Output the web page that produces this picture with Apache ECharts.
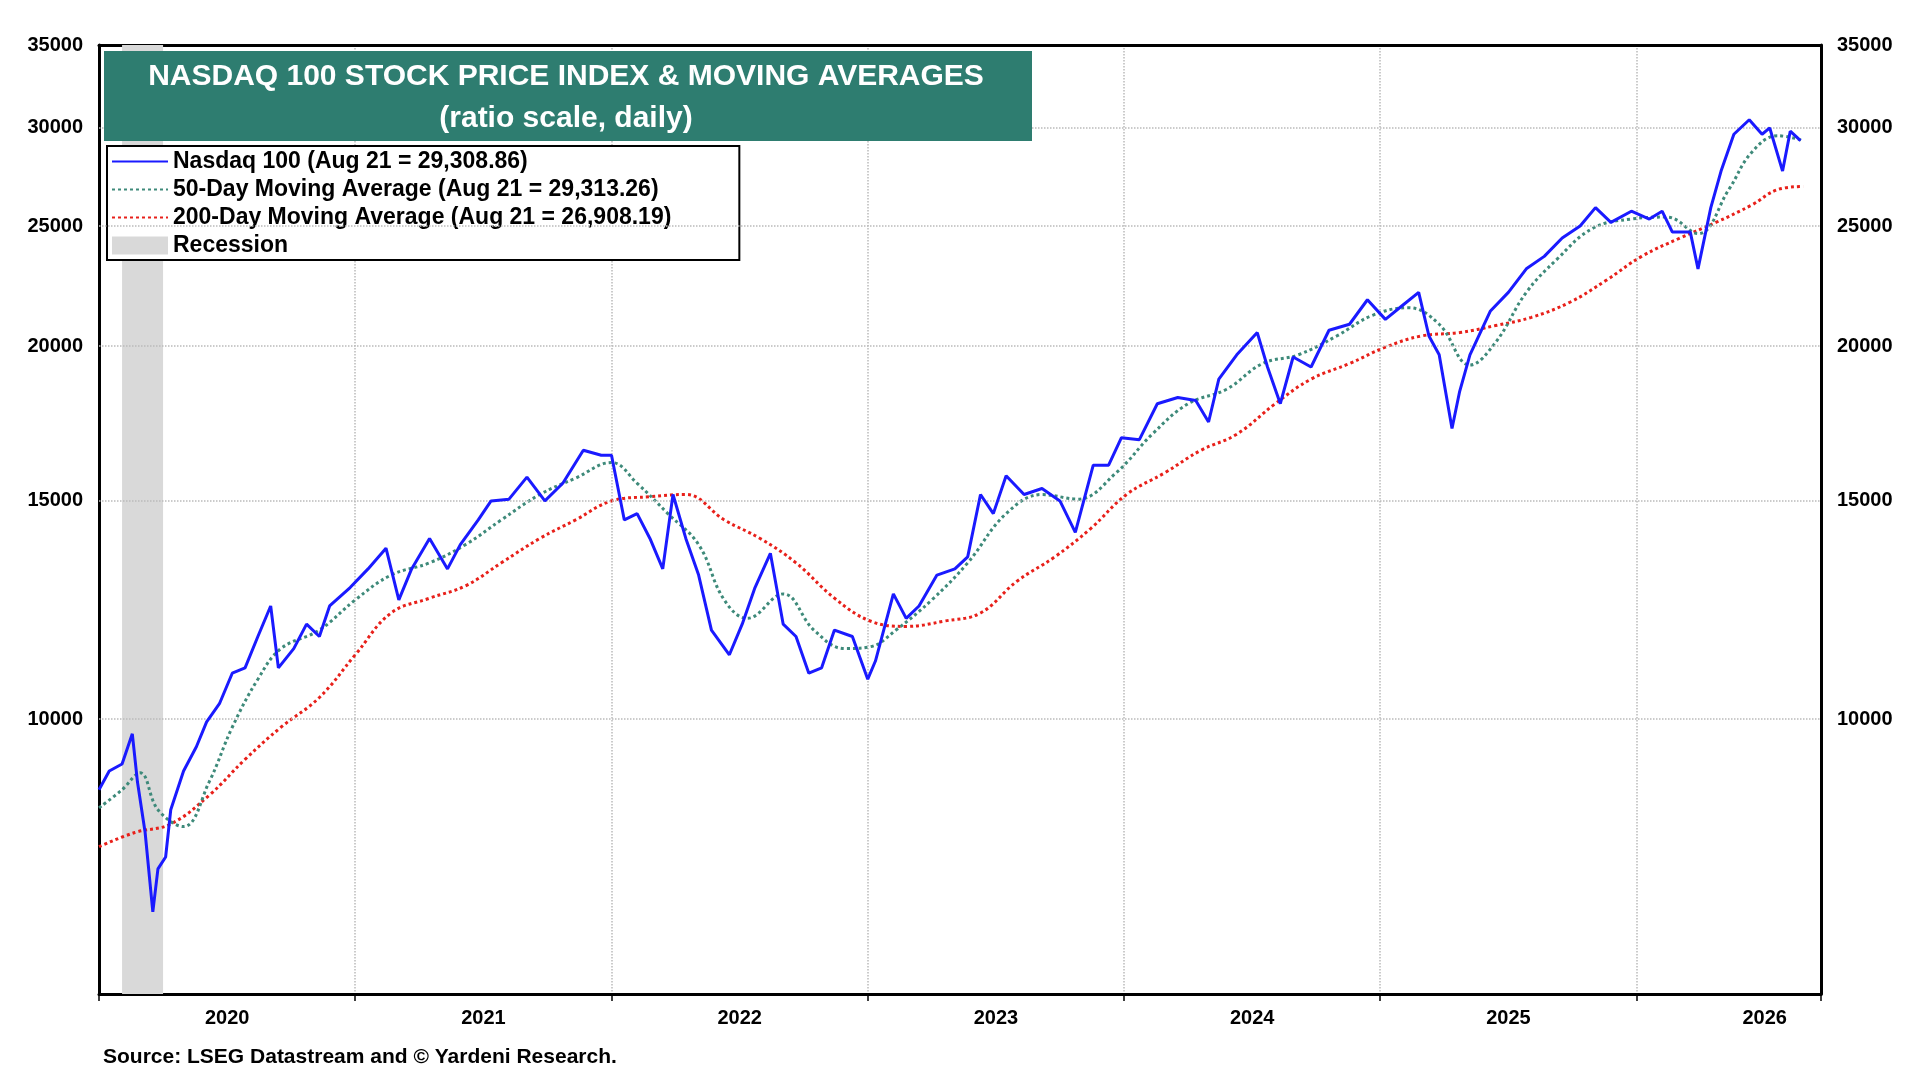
<!DOCTYPE html>
<html><head><meta charset="utf-8">
<script src="https://cdn.jsdelivr.net/npm/echarts@6/dist/echarts.min.js"></script>
<style>html,body{margin:0;padding:0;background:#fff}#c{width:1920px;height:1080px}</style>
</head><body><div id="c"></div>
<script>
const yTicks = [10000, 15000, 20000, 25000, 30000, 35000];
const yearLabels = [2020, 2021, 2022, 2023, 2024, 2025, 2026];
const recession = [2020.09, 2020.25];
const nasdaqX = [0,.04,.09,.13,.15,.18,.21,.23,.26,.28,.33,.38,.42,.47,.52,.57,.62,.67,.70,.76,.81,.86,.90,.98,1.05,1.12,1.17,1.22,1.29,1.36,1.41,1.48,1.53,1.60,1.67,1.74,1.81,1.89,1.96,2.00,2.05,2.10,2.15,2.20,2.24,2.29,2.34,2.39,2.46,2.51,2.56,2.62,2.67,2.72,2.77,2.82,2.87,2.94,3.00,3.03,3.10,3.15,3.20,3.27,3.34,3.39,3.44,3.49,3.54,3.61,3.68,3.75,3.81,3.88,3.94,3.99,4.06,4.13,4.21,4.28,4.33,4.37,4.44,4.52,4.56,4.61,4.66,4.73,4.80,4.88,4.95,5.02,5.09,5.15,5.19,5.23,5.28,5.31,5.35,5.43,5.50,5.57,5.64,5.71,5.78,5.84,5.90,5.98,6.05,6.10,6.14,6.21,6.24,6.29,6.33,6.38,6.44,6.49,6.52,6.57,6.60,6.64];
const nasdaqV = [8770,9080,9200,9730,8900,8100,6990,7570,7740,8450,9080,9500,9950,10290,10890,11000,11660,12340,11000,11400,11930,11660,12340,12770,13220,13740,12480,13220,13990,13220,13830,14480,15000,15050,15680,15000,15500,16480,16330,16330,14480,14650,13990,13220,15180,13990,13070,11800,11270,11930,12770,13610,11930,11660,10890,11000,11800,11660,10770,11140,12620,12060,12340,13070,13220,13520,15180,14650,15720,15180,15350,15000,14150,16030,16030,16870,16810,17970,18180,18080,17370,18810,19680,20510,19240,17970,19600,19240,20600,20830,21800,21020,21600,22100,20380,19680,17160,18390,19680,21350,22100,23090,23630,24450,25000,25870,25170,25700,25330,25700,24720,24720,23090,25870,27690,29650,30460,29650,30000,27690,29820,29300];
const ma50X = [0,.09,.16,.23,.33,.43,.52,.62,.71,.86,1.00,1.14,1.29,1.43,1.57,1.72,1.86,2.00,2.10,2.22,2.34,2.44,2.53,2.67,2.79,2.91,3.01,3.11,3.25,3.39,3.54,3.68,3.82,3.97,4.11,4.25,4.40,4.54,4.68,4.83,4.97,5.11,5.23,5.35,5.45,5.57,5.69,5.83,5.98,6.12,6.24,6.36,6.45,6.55,6.65];
const ma50V = [8480,8770,9050,8450,8190,8900,9850,10770,11400,11800,12480,13070,13370,13830,14480,15180,15650,16110,15500,14650,13830,12480,12060,12620,11800,11400,11440,11800,12480,13370,14650,15180,15050,15810,16980,17970,18460,19360,19680,20380,21180,21480,20830,19310,20140,22100,23510,24900,25330,25420,24650,26750,28680,29570,29310];
const ma200X = [0,.14,.28,.43,.57,.71,.86,1.00,1.14,1.29,1.43,1.57,1.72,1.86,2.00,2.15,2.29,2.44,2.58,2.72,2.87,3.01,3.15,3.30,3.44,3.58,3.73,3.87,4.01,4.16,4.30,4.44,4.59,4.73,4.88,5.02,5.16,5.31,5.45,5.59,5.74,5.88,6.02,6.17,6.31,6.45,6.55,6.65];
const ma200V = [7890,8100,8230,8680,9280,9850,10410,11270,12180,12520,12810,13370,13990,14480,15000,15120,15180,14480,13990,13370,12520,12000,11880,12000,12180,12910,13520,14250,15180,15810,16480,16980,17970,18810,19360,19960,20380,20510,20780,21100,21700,22590,23630,24450,25170,26000,26750,26910];

const pairs = (xs, vs) => xs.map((x, i) => [2020 + x, vs[i]]);
const font = 'Arial, "Liberation Sans", sans-serif';
const chart = echarts.init(document.getElementById('c'));
const yLabel = {customValues: yTicks, formatter: v => String(Math.round(v)), color: '#000', fontWeight: 'bold', fontSize: 20, fontFamily: font, margin: 16};
const yAxisBase = {
  type: 'log', min: 6000, max: 35000, logBase: 10,
  axisLine: {show: true, lineStyle: {color: '#000', width: 3}},
  axisTick: {show: false}, splitLine: {show: false}
};
const hideDot = {opacity: 0};
chart.setOption({
  animation: false,
  backgroundColor: '#fff',
  grid: {left: 99, right: 99, top: 45, bottom: 86, containLabel: false},
  xAxis: [{
    type: 'value', min: 2020, max: 2026.72, interval: 1,
    axisLine: {lineStyle: {color: '#000', width: 3}},
    axisTick: {show: true, length: 7, lineStyle: {color: '#000', width: 1.5}},
    splitLine: {show: true, lineStyle: {color: '#bbb', type: 'dotted', width: 1.5}},
    axisLabel: {customValues: yearLabels.map(y => y + 0.5), formatter: v => Math.floor(v),
      color: '#000', fontWeight: 'bold', fontSize: 20, fontFamily: font, margin: 14}
  }, {
    type: 'value', position: 'top', min: 2020, max: 2026.72,
    axisLine: {show: true, lineStyle: {color: '#000', width: 3}},
    axisTick: {show: false}, axisLabel: {show: false}, splitLine: {show: false}
  }],
  yAxis: [
    Object.assign({}, yAxisBase, {position: 'left', axisLabel: yLabel}),
    Object.assign({}, yAxisBase, {position: 'right', axisLabel: yLabel})
  ],
  legend: {
    orient: 'vertical', left: 107, top: 146,
    padding: [4, 68, 3, 4], itemGap: 5, itemWidth: 56, itemHeight: 18,
    borderColor: '#000', borderWidth: 2, backgroundColor: '#fff',
    textStyle: {color: '#000', fontWeight: 'bold', fontSize: 23, fontFamily: font},
    data: [
      {name: 'Nasdaq 100 (Aug 21 = 29,308.86)', itemStyle: hideDot},
      {name: '50-Day Moving Average (Aug 21 = 29,313.26)', itemStyle: hideDot},
      {name: '200-Day Moving Average (Aug 21 = 26,908.19)', itemStyle: hideDot},
      {name: 'Recession', icon: 'rect'}
    ]
  },
  graphic: [
    {type: 'rect', left: 104, top: 51, shape: {width: 928, height: 90}, style: {fill: '#2e7d70'}, z: 10},
    {type: 'text', z: 11, style: {x: 566, y: 56, text: 'NASDAQ 100 STOCK PRICE INDEX & MOVING AVERAGES\n(ratio scale, daily)', fill: '#fff', font: 'bold 30px ' + font, align: 'center', lineHeight: 42}},
    {type: 'text', left: 103, top: 1047, style: {text: 'Source: LSEG Datastream and © Yardeni Research.', fill: '#000', font: 'bold 21px ' + font}}
  ],
  series: [
    {name: 'Recession', type: 'line', data: [], symbol: 'none', itemStyle: {color: '#d9d9d9'},
     markArea: {silent: true, itemStyle: {color: '#d9d9d9'}, data: [[{xAxis: recession[0]}, {xAxis: recession[1]}]]}},
    {name: '200-Day Moving Average (Aug 21 = 26,908.19)', type: 'line', data: pairs(ma200X, ma200V), symbol: 'none', smooth: 0.4,
     lineStyle: {color: '#e8201a', width: 3, type: [3, 3]}, itemStyle: {color: '#e8201a'}, z: 3},
    {name: '50-Day Moving Average (Aug 21 = 29,313.26)', type: 'line', data: pairs(ma50X, ma50V), symbol: 'none', smooth: 0.4,
     lineStyle: {color: '#3e8a7a', width: 3, type: [3, 3]}, itemStyle: {color: '#3e8a7a'}, z: 4},
    {name: 'Nasdaq 100 (Aug 21 = 29,308.86)', type: 'line', data: pairs(nasdaqX, nasdaqV), symbol: 'none',
     lineStyle: {color: '#1a1aff', width: 3}, itemStyle: {color: '#1a1aff'}, z: 5,
     markLine: {silent: true, symbol: 'none', label: {show: false},
       lineStyle: {color: '#bbb', type: 'dotted', width: 1.5},
       data: yTicks.slice(0, 5).map(v => ({yAxis: v}))}}
  ]
});
</script></body></html>
